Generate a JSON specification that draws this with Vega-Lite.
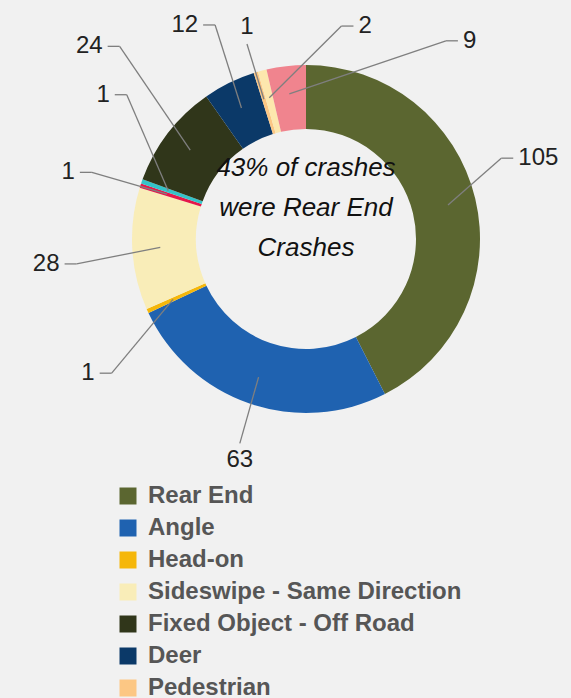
{
  "$schema": "https://vega.github.io/schema/vega-lite/v6.json",
  "width": 571,
  "height": 698,
  "padding": 0,
  "autosize": {"type": "none"},
  "background": "#f1f1f1",
  "config": {"view": {"stroke": null}, "font": "Liberation Sans"},
  "data": {
    "values": [
      {"cat": "Rear End", "value": 105, "seq": 0},
      {"cat": "Angle", "value": 63, "seq": 1},
      {"cat": "Head-on", "value": 1, "seq": 2},
      {"cat": "Sideswipe - Same Direction", "value": 28, "seq": 3},
      {"cat": "Sideswipe - Opposite Direction", "value": 1, "seq": 4},
      {"cat": "Backing", "value": 1, "seq": 5},
      {"cat": "Fixed Object - Off Road", "value": 24, "seq": 6},
      {"cat": "Deer", "value": 12, "seq": 7},
      {"cat": "Pedestrian", "value": 1, "seq": 8},
      {"cat": "Bicycle", "value": 2, "seq": 9},
      {"cat": "Other", "value": 9, "seq": 10}
    ]
  },
  "transform": [
    {"stack": "value", "groupby": [], "sort": [{"field": "seq", "order": "ascending"}], "as": ["start", "end"]},
    {"joinaggregate": [{"op": "sum", "field": "value", "as": "total"}]},
    {"calculate": "PI * (datum.start + datum.end) / datum.total", "as": "a"},
    {"calculate": "datum.a + PI / 180 * [-5.7, -2.3, -7.2, -2.2, -2.2, 16.1, 4.1, -3.3, 1.2, 30.1, 46.1][datum.seq]", "as": "la"},
    {"calculate": "[246, 231, 256, 261, 247, 249, 290, 246, 220, 221, 257][datum.seq]", "as": "lr"},
    {"calculate": "datum.lr * sin(datum.la)", "as": "lx"},
    {"calculate": "datum.lr * cos(datum.la)", "as": "ly"},
    {"calculate": "146 * sin(datum.a)", "as": "sx"},
    {"calculate": "146 * cos(datum.a)", "as": "sy"},
    {"calculate": "[0, 1, 0, 0, 0, 0, 0, 0, 1, 0, 0][datum.seq]", "as": "vert"},
    {"calculate": "length(toString(datum.value)) * 6.7 + 5", "as": "gap"},
    {"calculate": "datum.lx >= 0 ? 1 : -1", "as": "side"},
    {"calculate": "datum.vert ? datum.lx : datum.lx - datum.side * datum.gap", "as": "ex"},
    {"calculate": "datum.vert ? datum.ly - (datum.ly >= 0 ? 1 : -1) * 17 : datum.ly", "as": "ey"},
    {"calculate": "datum.vert ? datum.ex : datum.ex - datum.side * 12", "as": "bx"}
  ],
  "layer": [
    {
      "mark": {"type": "arc", "radius": 174, "innerRadius": 110},
      "encoding": {
        "theta": {"field": "value", "type": "quantitative", "stack": true},
        "order": {"field": "seq", "type": "quantitative", "sort": "ascending"},
        "x": {"datum": 0, "type": "quantitative", "scale": {"domain": [-306, 265], "nice": false, "zero": false}, "axis": null},
        "y": {"datum": 0, "type": "quantitative", "scale": {"domain": [-459, 239], "nice": false, "zero": false}, "axis": null},
        "color": {
          "field": "cat",
          "type": "nominal",
          "scale": {
            "domain": ["Rear End", "Angle", "Head-on", "Sideswipe - Same Direction", "Fixed Object - Off Road", "Deer", "Pedestrian", "Bicycle", "Other", "Sideswipe - Opposite Direction", "Backing"],
            "range": ["#5b6630", "#1f62b0", "#f5b70a", "#f9edb8", "#30361a", "#0b3968", "#fcc784", "#fde7ad", "#f0848e", "#e5184a", "#34c3c9"]
          },
          "legend": {
            "orient": "none",
            "legendX": 116,
            "legendY": 484,
            "title": null,
            "direction": "vertical",
            "symbolType": "square",
            "symbolSize": 289,
            "symbolStrokeWidth": 0,
            "labelFontSize": 24,
            "labelFont": "Liberation Sans",
            "labelFontWeight": "bold",
            "labelColor": "#565656",
            "labelOffset": 8,
            "labelLimit": 800,
            "rowPadding": 8
          }
        }
      }
    },
    {
      "mark": {"type": "rule", "color": "#7f7f7f", "strokeWidth": 1.3},
      "encoding": {
        "x": {"field": "sx", "type": "quantitative", "scale": {"domain": [-306, 265], "nice": false, "zero": false}, "axis": null},
        "y": {"field": "sy", "type": "quantitative", "scale": {"domain": [-459, 239], "nice": false, "zero": false}, "axis": null},
        "x2": {"field": "bx"},
        "y2": {"field": "ey"}
      }
    },
    {
      "mark": {"type": "rule", "color": "#7f7f7f", "strokeWidth": 1.3},
      "encoding": {
        "x": {"field": "bx", "type": "quantitative", "scale": {"domain": [-306, 265], "nice": false, "zero": false}, "axis": null},
        "y": {"field": "ey", "type": "quantitative", "scale": {"domain": [-459, 239], "nice": false, "zero": false}, "axis": null},
        "x2": {"field": "ex"},
        "y2": {"field": "ey"}
      }
    },
    {
      "mark": {"type": "text", "fontSize": 24, "font": "Liberation Sans", "color": "#222222", "align": "center", "baseline": "middle"},
      "encoding": {
        "x": {"field": "lx", "type": "quantitative", "scale": {"domain": [-306, 265], "nice": false, "zero": false}, "axis": null},
        "y": {"field": "ly", "type": "quantitative", "scale": {"domain": [-459, 239], "nice": false, "zero": false}, "axis": null},
        "text": {"field": "value", "type": "quantitative"}
      }
    },
    {
      "data": {"values": [{"note": "center"}]},
      "mark": {"type": "text", "fontSize": 26, "font": "Liberation Sans", "fontStyle": "italic", "color": "#111111", "align": "center", "baseline": "middle", "lineHeight": 40, "dy": -71},
      "encoding": {
        "x": {"datum": 0, "type": "quantitative", "scale": {"domain": [-306, 265], "nice": false, "zero": false}, "axis": null},
        "y": {"datum": 0, "type": "quantitative", "scale": {"domain": [-459, 239], "nice": false, "zero": false}, "axis": null},
        "text": {"value": ["43% of crashes", "were Rear End", "Crashes"]}
      }
    }
  ]
}
